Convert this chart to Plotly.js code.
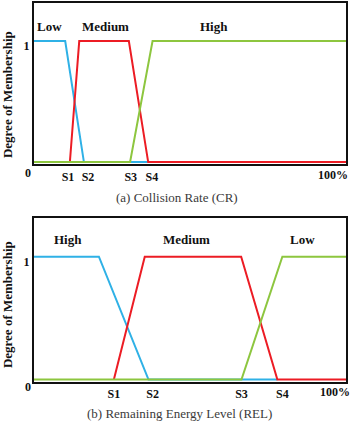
<!DOCTYPE html>
<html>
<head>
<meta charset="utf-8">
<script src="https://cdn.plot.ly/plotly-3.0.1.min.js"></script>
<style>
  html, body { margin: 0; padding: 0; background: #fff; }
  #chart { width: 353px; height: 428px; }
</style>
</head>
<body>
<div id="chart"></div>
<script>
// (a) Collision Rate membership functions (x in % of range)
const crTickVals = [10.9, 17.3, 31, 37.8];
const crTickText = ['S1', 'S2', 'S3', 'S4'];
const crLowX = [0, 10, 16, 36.6];
const crLowY = [1, 1, 0, 0];
const crMedX = [11.5, 14.5, 30.4, 36.6, 100];
const crMedY = [0, 1, 1, 0, 0];
const crHighX = [0, 30.8, 38, 100];
const crHighY = [0, 0, 1, 1];
const crSetNames = ['Low', 'Medium', 'High'];
const crSetPos = [5.1, 22.8, 57.7];

// (b) Remaining Energy Level membership functions
const relTickVals = [25.6, 38, 66.5, 79.6];
const relTickText = ['S1', 'S2', 'S3', 'S4'];
const relHighX = [0, 20.8, 36.7, 78];
const relHighY = [1, 1, 0, 0];
const relMedX = [25.6, 35.5, 66.4, 78, 100];
const relMedY = [0, 1, 1, 0, 0];
const relLowX = [0, 66.5, 79.6, 100];
const relLowY = [0, 0, 1, 1];
const relSetNames = ['High', 'Medium', 'Low'];
const relSetPos = [10.9, 49, 86.2];

const BLUE = '#2fb1e6';
const RED = '#ec1c24';
const GREEN = '#8dc63f';
const SERIF = '"Liberation Serif", "Times New Roman", serif';

function line(x, y, color, xa, ya) {
  return { x: x, y: y, xaxis: xa, yaxis: ya, mode: 'lines', type: 'scatter',
           line: { color: color, width: 2 }, hoverinfo: 'skip', showlegend: false };
}

// draw order: blue, red, green (green sits on top along the baseline)
const data = [
  line(crLowX, crLowY, BLUE, 'x', 'y'),
  line(crMedX, crMedY, RED, 'x', 'y'),
  line(crHighX, crHighY, GREEN, 'x', 'y'),
  line(relHighX, relHighY, BLUE, 'x2', 'y2'),
  line(relMedX, relMedY, RED, 'x2', 'y2'),
  line(relLowX, relLowY, GREEN, 'x2', 'y2')
];

function xAxis(vals, text, anchor) {
  return {
    range: [0, 100], anchor: anchor, showgrid: false, zeroline: false,
    showline: true, mirror: true, linecolor: '#111', linewidth: 2,
    tickmode: 'array', tickvals: vals, ticktext: text, ticks: '',
    tickfont: { family: SERIF, size: 12, color: '#111', weight: 'bold' },
    fixedrange: true
  };
}
function yAxis(domain, anchor) {
  return {
    range: [-0.02, 1.315], domain: domain, anchor: anchor,
    showgrid: false, zeroline: false,
    showline: true, mirror: true, linecolor: '#111', linewidth: 2,
    tickmode: 'array', tickvals: [1], ticktext: ['1'], ticks: '',
    ticklabelshift: 5,
    tickfont: { family: SERIF, size: 12, color: '#111', weight: 'bold' },
    fixedrange: true
  };
}

const annotations = [];
function setLabels(names, pos, xa, ya, yv) {
  names.forEach((n, i) => annotations.push({
    text: n, x: pos[i], y: yv, xref: xa, yref: ya, showarrow: false,
    xanchor: 'center', yanchor: 'middle',
    font: { family: SERIF, size: 13, color: '#111', weight: 'bold' }
  }));
}
setLabels(crSetNames, crSetPos, 'x', 'y', 1.124);
setLabels(relSetNames, relSetPos, 'x2', 'y2', 1.139);

function paperText(text, x, y, font, angle) {
  annotations.push({ text: text, x: x, y: y, xref: 'paper', yref: 'paper',
    showarrow: false, xanchor: 'center', yanchor: 'middle',
    textangle: angle || 0, font: font });
}
const tickFont = { family: SERIF, size: 12, color: '#111', weight: 'bold' };
const titleFont = { family: SERIF, size: 13, color: '#3a3a3a' };
const yTitleFont = { family: SERIF, size: 13, color: '#111', weight: 'bold' };

// axis end labels
paperText('0', -0.019, 0.5515, tickFont);
paperText('100%', 0.958, 0.546, tickFont);
paperText('0', -0.019, -0.0132, tickFont);
paperText('100%', 0.965, -0.026, tickFont);
// panel captions
paperText('(a) Collision Rate (CR)', 0.458, 0.4855, titleFont);
paperText('(b) Remaining Energy Level (REL)', 0.465, -0.0844, titleFont);
// vertical axis titles
paperText('Degree of Membership', -0.083, 0.7573, yTitleFont, -90);
paperText('Degree of Membership', -0.083, 0.2032, yTitleFont, -90);

const layout = {
  width: 353, height: 428,
  margin: { l: 34, r: 7, t: 3, b: 46 },
  paper_bgcolor: '#fff', plot_bgcolor: '#fff',
  showlegend: false,
  xaxis: xAxis(crTickVals, crTickText, 'y'),
  yaxis: yAxis([0.574, 1], 'x'),
  xaxis2: xAxis(relTickVals, relTickText, 'y2'),
  yaxis2: yAxis([0, 0.4327], 'x2'),
  annotations: annotations
};

Plotly.newPlot('chart', data, layout, { displayModeBar: false, staticPlot: true });
</script>
</body>
</html>
